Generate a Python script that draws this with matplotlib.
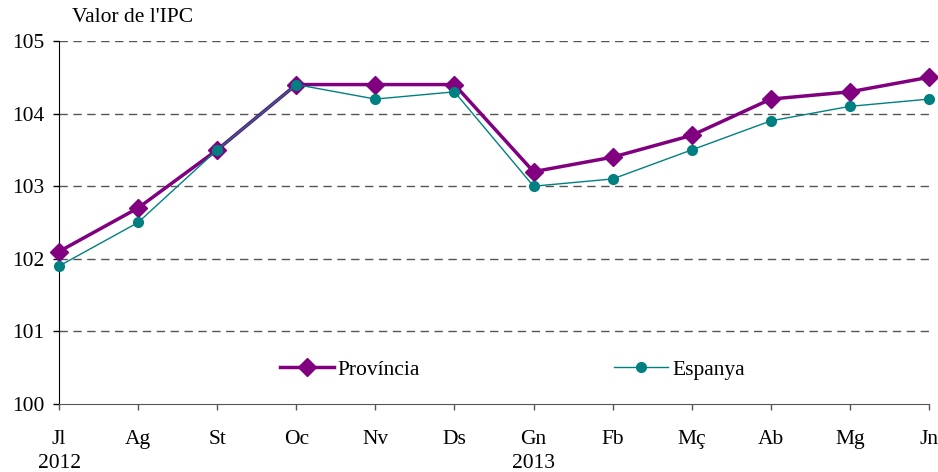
import matplotlib.pyplot as plt
import numpy as np

# dades
mesos = ['Jl\n2012', 'Ag', 'St', 'Oc', 'Nv', 'Ds', 'Gn\n2013', 'Fb', 'Mç', 'Ab', 'Mg', 'Jn']
provincia = [102.1, 102.7, 103.5, 104.4, 104.4, 104.4, 103.2, 103.4, 103.7, 104.2, 104.3, 104.5]
espanya = [101.9, 102.5, 103.5, 104.4, 104.2, 104.3, 103.0, 103.1, 103.5, 103.9, 104.1, 104.2]

plt.rcParams['font.family'] = ['Liberation Serif', 'DejaVu Serif']
fs = 15.5

fig = plt.figure(figsize=(9.38, 4.72), dpi=100)
ax = fig.add_axes([59/938, 1-404/472, 870/938, 363/472])

x = np.arange(len(mesos))
ax.plot(x, provincia, color='#800080', lw=2.5, marker='D', ms=9, label='Província',
        zorder=3, clip_on=False)
ax.plot(x, espanya, color='#008080', lw=1, marker='o', ms=7, label='Espanya',
        zorder=4, clip_on=False)

ax.set_xlim(0, len(mesos)-1)
ax.set_ylim(100, 105)
ax.set_yticks([100, 101, 102, 103, 104, 105])
ax.set_xticks(x)
ax.set_xticklabels(mesos)
plt.setp(ax.get_xticklabels(), linespacing=1.4)

for v in [101, 102, 103, 104, 105]:
    ax.axhline(v, color='#555555', lw=1, ls=(0, (6, 4)), zorder=1)

for s in ['top', 'right']:
    ax.spines[s].set_visible(False)
ax.spines['left'].set_color('black')
ax.spines['bottom'].set_color('#555555')
ax.tick_params(axis='y', length=4.5, width=1, labelsize=fs, pad=6)
ax.tick_params(axis='x', length=4.5, width=1, labelsize=fs, pad=14, color='#555555')
for lab in ax.get_xticklabels() + ax.get_yticklabels():
    lab.set_color('black')

ax.text(72/938, 1-18/472, "Valor de l'IPC", transform=fig.transFigure, fontsize=fs,
        va='center', ha='left')

ax.legend(loc='center', bbox_to_anchor=(0.521, 0.094), ncol=2, frameon=False,
          fontsize=fs, handlelength=2.5, columnspacing=9, handletextpad=0.2)

fig.savefig('out.png', dpi=100)
